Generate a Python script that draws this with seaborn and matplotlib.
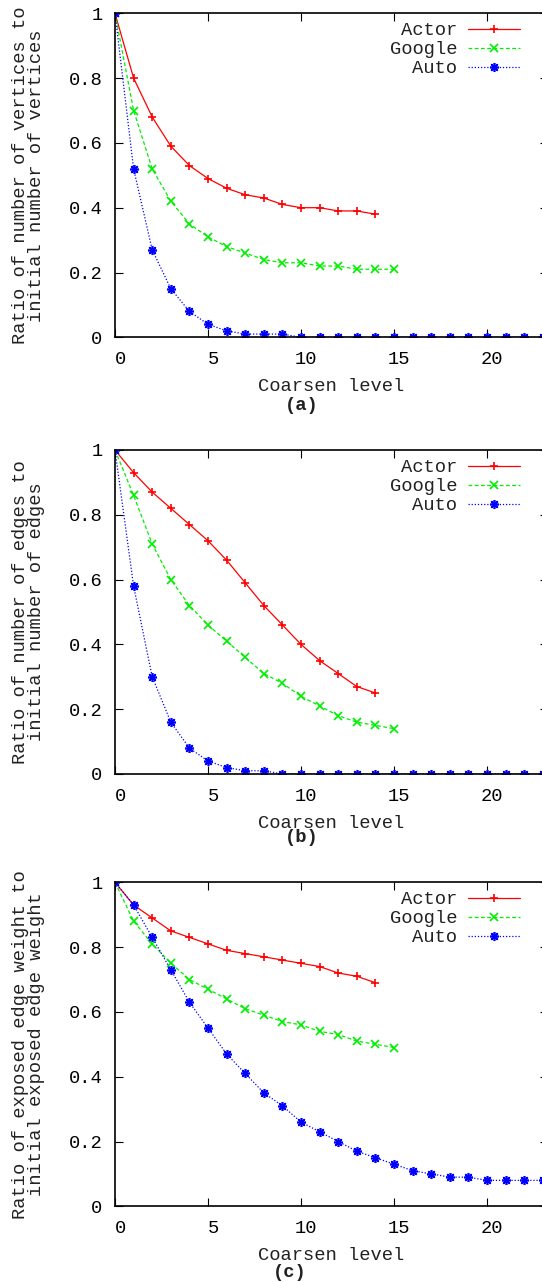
import numpy as np
import pandas as pd
import matplotlib
matplotlib.use("Agg")
import matplotlib.pyplot as plt
import matplotlib.transforms as mtransforms
import seaborn as sns

# ---------------- data ----------------
levels_actor = list(range(0, 15))
levels_google = list(range(0, 16))
levels_auto = list(range(0, 24))

# (a) vertices
vert_actor = [1.0, 0.80, 0.68, 0.59, 0.53, 0.49, 0.46, 0.44, 0.43, 0.41, 0.40, 0.40, 0.39, 0.39, 0.38]
vert_google = [1.0, 0.70, 0.52, 0.42, 0.35, 0.31, 0.28, 0.26, 0.24, 0.23, 0.23, 0.22, 0.22, 0.21, 0.21, 0.21]
vert_auto = [1.0, 0.52, 0.27, 0.15, 0.08, 0.04, 0.02, 0.01, 0.01, 0.01,
             0, 0, 0, 0, 0, 0, 0, 0, 0, 0, 0, 0, 0, 0]

# (b) edges
edge_actor = [1.0, 0.93, 0.87, 0.82, 0.77, 0.72, 0.66, 0.59, 0.52, 0.46, 0.40, 0.35, 0.31, 0.27, 0.25]
edge_google = [1.0, 0.86, 0.71, 0.60, 0.52, 0.46, 0.41, 0.36, 0.31, 0.28, 0.24, 0.21, 0.18, 0.16, 0.15, 0.14]
edge_auto = [1.0, 0.58, 0.30, 0.16, 0.08, 0.04, 0.02, 0.01, 0.01,
             0, 0, 0, 0, 0, 0, 0, 0, 0, 0, 0, 0, 0, 0, 0]

# (c) exposed edge weight
weight_actor = [1.0, 0.93, 0.89, 0.85, 0.83, 0.81, 0.79, 0.78, 0.77, 0.76, 0.75, 0.74, 0.72, 0.71, 0.69]
weight_google = [1.0, 0.88, 0.81, 0.75, 0.70, 0.67, 0.64, 0.61, 0.59, 0.57, 0.56, 0.54, 0.53, 0.51, 0.50, 0.49]
weight_auto = [1.0, 0.93, 0.83, 0.73, 0.63, 0.55, 0.47, 0.41, 0.35, 0.31, 0.26, 0.23, 0.20, 0.17,
               0.15, 0.13, 0.11, 0.10, 0.09, 0.09, 0.08, 0.08, 0.08, 0.08]

series_names = ["Actor", "Google", "Auto"]
ylabels = ["Ratio of number of vertices to\ninitial number of vertices",
           "Ratio of number of edges to\ninitial number of edges",
           "Ratio of exposed edge weight to\ninitial exposed edge weight"]
panel_tags = ["(a)", "(b)", "(c)"]
xlabel_text = "Coarsen level"
xticks = [0, 5, 10, 15, 20]
yticks = [0, 0.2, 0.4, 0.6, 0.8, 1.0]
ytick_labels = ["0", "0.2", "0.4", "0.6", "0.8", "1"]

panels = [
    (vert_actor, vert_google, vert_auto),
    (edge_actor, edge_google, edge_auto),
    (weight_actor, weight_google, weight_auto),
]

# ---------------- style ----------------
sns.set_style("ticks")
plt.rcParams["font.family"] = ["Liberation Mono", "DejaVu Sans Mono"]
plt.rcParams["font.size"] = 13.5

colors = ["#ff0000", "#00ee00", "#0000ff"]
markers = ["+", "x", (8, 2, 0)]
msizes = [6, 5.5, 6.5]
linestyles = ["-", (0, (3, 2)), (0, (1, 1.5))]

W, H = 542, 1282
fig = plt.figure(figsize=(W / 100, H / 100), dpi=100)

ax_left_px = 115
ax_right_px = 548
ax_h_px = 324
tops_px = [13.3, 450.0, 882.3]
tag_x_px = [302, 302, 290]
tag_y_off = [68, 64, 66]

for i, (sa, sg, su) in enumerate(panels):
    top = tops_px[i]
    ax = fig.add_axes([ax_left_px / W, 1 - (top + ax_h_px) / H,
                       (ax_right_px - ax_left_px) / W, ax_h_px / H])
    data = [(levels_actor, sa), (levels_google, sg), (levels_auto, su)]
    for k, (xs, ys) in enumerate(data):
        df = pd.DataFrame({"level": xs, "ratio": ys})
        sns.lineplot(data=df, x="level", y="ratio", ax=ax, color=colors[k],
                     marker=markers[k], markersize=msizes[k], markeredgewidth=1.2,
                     markeredgecolor=colors[k],
                     linestyle=linestyles[k], linewidth=0.9, label=series_names[k],
                     clip_on=True)
    ax.set_xlim(0, (ax_right_px - ax_left_px) / 18.6)
    ax.set_ylim(0, 1)
    ax.set_xticks(xticks)
    ax.set_xticklabels([str(t) for t in xticks])
    ax.set_yticks(yticks)
    ax.set_yticklabels(ytick_labels)
    ax.tick_params(axis="both", direction="in", length=6, width=0.8,
                   top=True, right=True, labelsize=13.5, colors="black")
    ax.tick_params(axis="x", pad=10)
    ax.tick_params(axis="y", pad=9)
    for lab in ax.get_xticklabels():
        lab.set_transform(lab.get_transform() +
                          mtransforms.ScaledTranslation(5 / 100, 0, fig.dpi_scale_trans))
    for sp in ax.spines.values():
        sp.set_visible(True)
        sp.set_linewidth(1.2)
        sp.set_color("black")
    ax.set_ylabel(ylabels[i], fontsize=13.5, linespacing=0.95, color="#222222")
    ax.yaxis.set_label_coords((45 - ax_left_px) / (ax_right_px - ax_left_px), 0.5)
    ax.set_xlabel(xlabel_text, fontsize=13.5, color="#222222")
    ax.xaxis.set_label_coords(0.5, -49 / ax_h_px)
    ax.xaxis.label.set_va("center")
    ax.grid(False)

    leg = ax.legend(loc="upper right",
                    bbox_to_anchor=(520 / W, 1 - (top + 9) / H),
                    bbox_transform=fig.transFigure,
                    frameon=False, markerfirst=False, handlelength=2.75,
                    handletextpad=0.6, labelspacing=0.1, borderpad=0,
                    borderaxespad=0, fontsize=13.5)
    for t in leg.get_texts():
        t.set_ha("right")
        t.set_color("#222222")

    fig.text(tag_x_px[i] / W, 1 - (top + ax_h_px + tag_y_off[i]) / H, panel_tags[i],
             ha="center", va="center", fontsize=13.5, fontweight="bold", color="#222222")

fig.savefig("out.png", dpi=100)
